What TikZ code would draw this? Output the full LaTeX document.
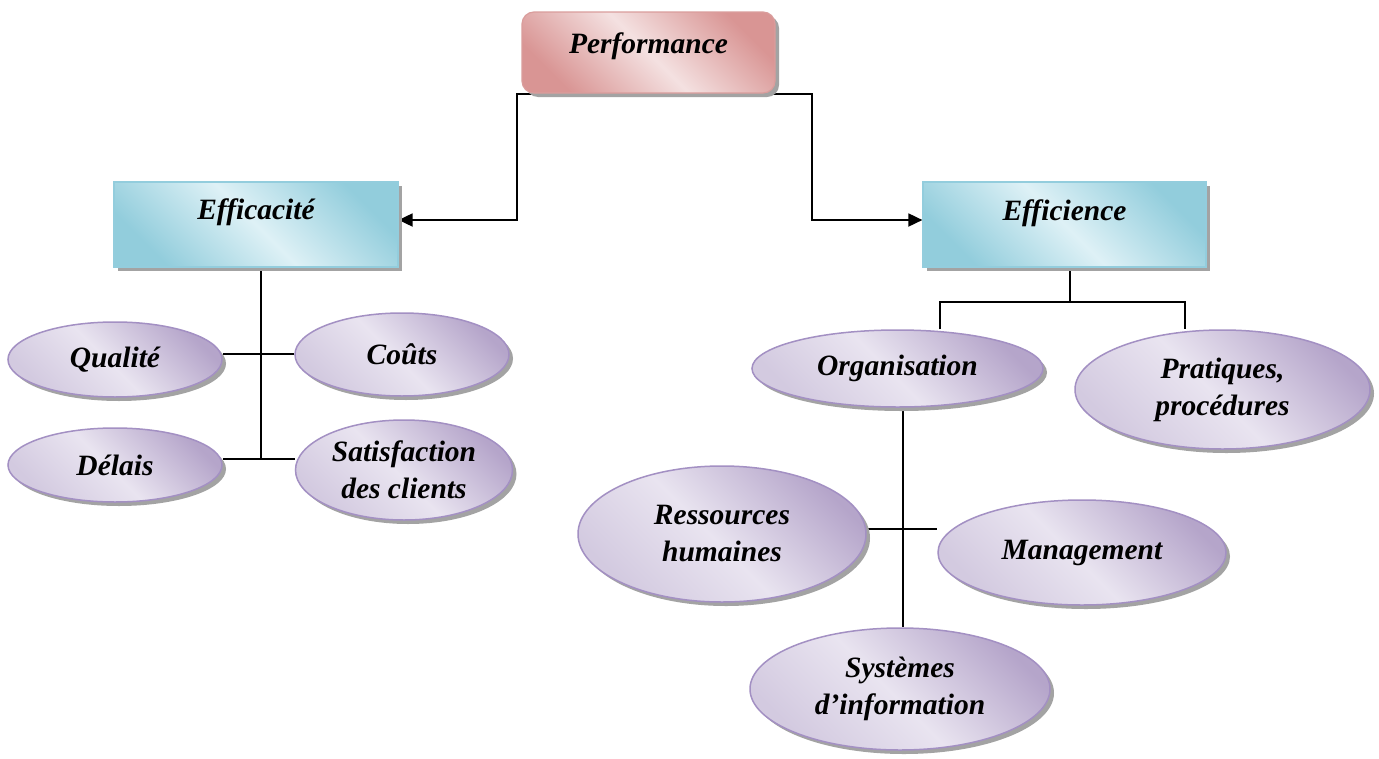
\documentclass[tikz,border=0pt]{standalone}
\usepackage{fontspec}
\setmainfont{Liberation Serif}
\usetikzlibrary{shapes.geometric,shadows,arrows.meta,backgrounds}
\definecolor{bdark}{HTML}{92CDDC}
\definecolor{blight}{HTML}{DEF1F6}
\definecolor{bedge}{HTML}{93CDDD}
\definecolor{pdark}{HTML}{D99594}
\definecolor{plight}{HTML}{F4E1E1}
\definecolor{pedge}{HTML}{DA9D9C}
\definecolor{udark}{HTML}{B5A5CA}
\definecolor{umed}{HTML}{D3CAE0}
\definecolor{ulight}{HTML}{E9E4F0}
\definecolor{uedge}{HTML}{A390C3}
\definecolor{shd}{HTML}{A3A3A3}
\pgfdeclarehorizontalshading{blueband}{100bp}{color(0bp)=(bdark); color(25bp)=(bdark); color(50bp)=(blight); color(75bp)=(bdark); color(100bp)=(bdark)}
\pgfdeclarehorizontalshading{pinkband}{100bp}{color(0bp)=(pdark); color(25bp)=(pdark); color(50bp)=(plight); color(75bp)=(pdark); color(100bp)=(pdark)}
\pgfdeclarehorizontalshading{purpband}{100bp}{color(0bp)=(umed); color(25bp)=(umed); color(48bp)=(ulight); color(75bp)=(udark); color(100bp)=(udark)}
\begin{document}
\begin{tikzpicture}[x=1pt,y=-1pt,
  font=\fontsize{29.5}{37}\selectfont\bfseries\itshape,
  shd/.style={drop shadow={shadow xshift=4pt,shadow yshift=-4pt,fill=shd,opacity=1}},
  bluebox/.style={rectangle,draw=bedge,line width=1.2pt,shading=blueband,shading angle=45,shd,inner sep=0pt},
  pinkbox/.style={rectangle,rounded corners=12pt,draw=pedge,line width=1.2pt,shading=pinkband,shading angle=45,shd,inner sep=0pt},
  oval/.style={ellipse,draw=uedge,line width=1.5pt,shading=purpband,shading angle=45,shd,inner sep=0pt,align=center},
  conn/.style={line width=1.8pt,black},
  arr/.style={conn,-{Triangle[length=14pt,width=13pt]}}]
\begin{scope}[on background layer]
\path[use as bounding box,fill=white] (0,0) rectangle (1379,758);
\end{scope}
% boxes
\node[pinkbox,minimum width=253pt,text height=41pt,text depth=40pt] (perf) at (648.5,52.5) {Performance};
\node[bluebox,minimum width=284pt,text height=37pt,text depth=48pt] (effa) at (256,224.5) {Efficacité};
\node[bluebox,minimum width=283pt,text height=38pt,text depth=47pt] (effi) at (1064.5,224.5) {Efficience};
% ellipses
\node[oval,minimum width=214pt,minimum height=75pt] (qual) at (115,359.5) {Qualité};
\node[oval,minimum width=214pt,minimum height=83pt] (cout) at (402,354.5) {Coûts};
\node[oval,minimum width=214pt,minimum height=74pt] (delais) at (115,465) {Délais};
\node[oval,minimum width=217pt,minimum height=100pt] (satis) at (404,470) {Satisfaction\\des clients};
\node[oval,minimum width=291pt,minimum height=77pt] (org) at (897.5,368.5) {Organisation};
\node[oval,minimum width=295pt,minimum height=119pt] (prat) at (1222.5,389.5) {Pratiques,\\procédures};
\node[oval,minimum width=288pt,minimum height=136pt] (ress) at (722,534) {Ressources\\humaines};
\node[oval,minimum width=288pt,minimum height=105pt] (mgmt) at (1082,552.5) {Management};
\node[oval,minimum width=300pt,minimum height=122pt] (sys) at (900,689) {Systèmes\\d’information};
% junction points
\coordinate (pl) at (517,94);
\coordinate (pr) at (812,94);
\coordinate (v) at (261,459);
\coordinate (h1) at (261,354);
\coordinate (ej) at (1070,302);
\coordinate (oa) at (940,302);
\coordinate (ob) at (1185,302);
\coordinate (oc) at (903,529);
\begin{scope}[on background layer]
\draw[arr] (perf.south |- pl) -- (pl) |- ([yshift=4.5pt]effa.east);
\draw[arr] (perf.south |- pr) -- (pr) |- ([yshift=4.5pt]effi.west);
\draw[conn] (effa.south -| v) -- (v);
\draw[conn] (qual.east |- h1) -- (cout.west |- h1);
\draw[conn] (delais.east |- v) -- (satis.west |- v);
\draw[conn] (effi.south -| ej) -- (ej);
\draw[conn] (org.north -| oa) -- (oa) -- (ob) -- (prat.north -| ob);
\draw[conn] (org.south -| oc) -- (sys.north -| oc);
\draw[conn] (ress.east |- oc) -- (mgmt.west |- oc);
\end{scope}
\end{tikzpicture}
\end{document}
